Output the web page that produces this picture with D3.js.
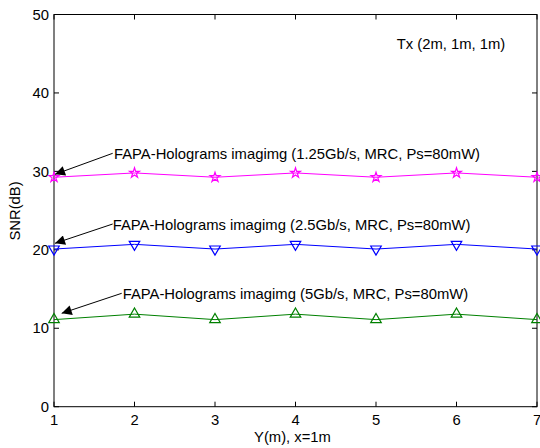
<!DOCTYPE html>
<html>
<head>
<meta charset="utf-8">
<script src="https://cdn.jsdelivr.net/npm/d3@7"></script>
<style>
  html, body { margin: 0; padding: 0; background: #fff; }
  svg { display: block; font-family: "Liberation Sans", Arial, Helvetica, sans-serif; }
</style>
</head>
<body>
<svg id="chart" width="540" height="448"></svg>
<script>
// Receiver positions along Y (m)
const positions = [1, 2, 3, 4, 5, 6, 7];
// SNR (dB) for each data rate
const snr125 = [29.25, 29.8, 29.25, 29.8, 29.25, 29.8, 29.25];
const snr25  = [20.1, 20.7, 20.1, 20.7, 20.1, 20.7, 20.1];
const snr5   = [11.1, 11.8, 11.1, 11.8, 11.1, 11.8, 11.1];
// Axis ticks
const xTicks = [1, 2, 3, 4, 5, 6, 7];
const yTicks = [0, 10, 20, 30, 40, 50];
// Annotation texts
const labels = [
  "FAPA-Holograms imagimg (1.25Gb/s, MRC, Ps=80mW)",
  "FAPA-Holograms imagimg (2.5Gb/s, MRC, Ps=80mW)",
  "FAPA-Holograms imagimg (5Gb/s, MRC, Ps=80mW)"
];
const txLabel = "Tx (2m, 1m, 1m)";

const svg = d3.select("#chart");
const plotL = 54, plotR = 537, plotT = 14.5, plotB = 406.7;
const x = d3.scaleLinear().domain([1, 7]).range([plotL, plotR]);
const y = d3.scaleLinear().domain([0, 50]).range([plotB, plotT]);
const fontSize = 14.8;

// Arrowhead marker
svg.append("defs").append("marker")
  .attr("id", "arrow").attr("viewBox", "0 0 10 10")
  .attr("refX", 10).attr("refY", 5)
  .attr("markerWidth", 15).attr("markerHeight", 10)
  .attr("markerUnits", "userSpaceOnUse")
  .attr("orient", "auto")
  .append("path").attr("d", "M0,0 L10,5 L0,10 Z").attr("fill", "#000");

// Axes box with inward ticks on all four sides
const tickLen = 5;
const g = svg.append("g");
g.append("rect").attr("x", plotL).attr("y", plotT)
  .attr("width", plotR - plotL).attr("height", plotB - plotT)
  .attr("fill", "none").attr("stroke", "#000").attr("stroke-width", 1);

xTicks.forEach(t => {
  g.append("line").attr("x1", x(t)).attr("x2", x(t)).attr("y1", plotB).attr("y2", plotB - tickLen).attr("stroke", "#000");
  g.append("line").attr("x1", x(t)).attr("x2", x(t)).attr("y1", plotT).attr("y2", plotT + tickLen).attr("stroke", "#000");
  g.append("text").attr("x", x(t)).attr("y", plotB + 18)
    .attr("text-anchor", "middle").attr("font-size", fontSize).text(t);
});
yTicks.forEach(t => {
  g.append("line").attr("x1", plotL).attr("x2", plotL + tickLen).attr("y1", y(t)).attr("y2", y(t)).attr("stroke", "#000");
  g.append("line").attr("x1", plotR).attr("x2", plotR - tickLen).attr("y1", y(t)).attr("y2", y(t)).attr("stroke", "#000");
  g.append("text").attr("x", plotL - 5).attr("y", y(t)).attr("dy", "0.35em")
    .attr("text-anchor", "end").attr("font-size", fontSize).text(t);
});

// Axis titles
svg.append("text").attr("x", 292.5).attr("y", 442)
  .attr("text-anchor", "middle").attr("font-size", fontSize).text("Y(m), x=1m");
svg.append("text").attr("transform", "translate(20,211) rotate(-90)")
  .attr("text-anchor", "middle").attr("font-size", fontSize).text("SNR(dB)");

// Series
const line = d3.line().x((d, i) => x(positions[i])).y(d => y(d));
const series = [
  { data: snr125, color: "#ff00ff", shape: d3.symbolStar, size: 30, rot: 0 },
  { data: snr25,  color: "#0000ff", shape: d3.symbolTriangle, size: 48, rot: 180 },
  { data: snr5,   color: "#008000", shape: d3.symbolTriangle, size: 48, rot: 0 }
];
series.forEach(s => {
  svg.append("path").datum(s.data).attr("d", line)
    .attr("fill", "none").attr("stroke", s.color).attr("stroke-width", 1);
  svg.append("g").selectAll("path").data(s.data).join("path")
    .attr("d", d3.symbol().type(s.shape).size(s.size))
    .attr("transform", (d, i) => `translate(${x(positions[i])},${y(d)}) rotate(${s.rot})`)
    .attr("fill", "none").attr("stroke", s.color).attr("stroke-width", 1.2);
});

// Annotations with arrows pointing at the first point of each series
const notes = [
  { text: labels[0], tx: 114, ty: 153.5, ax: 112.7, ay: 153.3, bx: 55, by: 174.3 },
  { text: labels[1], tx: 112.7, ty: 225, ax: 112.7, ay: 224, bx: 55, by: 243.3 },
  { text: labels[2], tx: 122.7, ty: 294, ax: 121.7, ay: 293.3, bx: 61.7, by: 313.3 }
];
notes.forEach(n => {
  svg.append("line").attr("x1", n.ax).attr("y1", n.ay).attr("x2", n.bx).attr("y2", n.by)
    .attr("stroke", "#000").attr("stroke-width", 1).attr("marker-end", "url(#arrow)");
  svg.append("text").attr("x", n.tx).attr("y", n.ty).attr("dy", "0.35em")
    .attr("font-size", fontSize).text(n.text);
});

svg.append("text").attr("x", 396.7).attr("y", 49)
  .attr("font-size", fontSize).text(txLabel);
</script>
</body>
</html>
